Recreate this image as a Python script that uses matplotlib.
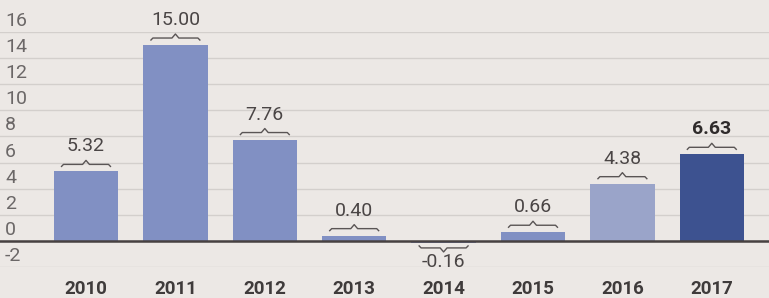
import matplotlib.pyplot as plt
import numpy as np

years = ['2010', '2011', '2012', '2013', '2014', '2015', '2016', '2017']
values = [5.32, 15.00, 7.76, 0.40, -0.16, 0.66, 4.38, 6.63]
yticks = [-2, 0, 2, 4, 6, 8, 10, 12, 14, 16]
bar_colors = ['#8190c3'] * 6 + ['#9aa4c9', '#3d5290']

plt.rcParams['font.family'] = ['Roboto', 'DejaVu Sans']

fig = plt.figure(figsize=(7.69, 2.98), dpi=100)
fig.patch.set_facecolor('#ece8e5')
ax = fig.add_axes([0, 31 / 298, 1, 235 / 298])
ax.set_facecolor('#ece8e5')

x = np.arange(len(years))
width = 0.72
ax.bar(x, values, width=width, color=bar_colors, zorder=2)

ax.set_xlim(-86 / 89.4, (769 - 86) / 89.4)
ax.set_ylim(-2, 16)
unit = 1 / 13.0  # data units per pixel
for t in yticks:
    ax.axhline(t, color='#d3cfcc', lw=1, zorder=1)
    ax.text(5 / 769, t + 2 * unit, str(t), transform=ax.get_yaxis_transform(),
            ha='left', va='bottom', fontsize=14, color='#6b6767', zorder=3)
ax.axhline(0, color='#474141', lw=1.8, zorder=3)

for s in ax.spines.values():
    s.set_visible(False)
ax.set_xticks(x)
ax.set_xticklabels(years, fontweight='bold', fontsize=13.5, color='#3f3b3b')
ax.tick_params(axis='x', length=0, pad=9)
ax.set_yticks([])

# braces and value labels
bx = np.array([-0.5, -0.46, -0.07, 0, 0.07, 0.46, 0.5]) * width * 0.76
by = np.array([-2, 0, 0, 4, 0, 0, -2]) * unit
for xi, v, c in zip(x, values, bar_colors):
    sign = 1 if v >= 0 else -1
    bold = c == '#3d5290'
    if sign > 0:
        base = v + 7 * unit
        ty = base + 9 * unit
    else:
        base = 0 - 7 * unit
        ty = base - 5 * unit
    ax.plot(xi + bx, base + sign * by, color='#5a5555', lw=1, zorder=3)
    ax.text(xi, ty, f'{v:.2f}', ha='center',
            va='bottom' if sign > 0 else 'top', fontsize=14,
            fontweight='bold' if bold else 'normal',
            color='#2f2b2b' if bold else '#4a4545', zorder=3)

fig.savefig('out.png', dpi=100, facecolor=fig.get_facecolor())
